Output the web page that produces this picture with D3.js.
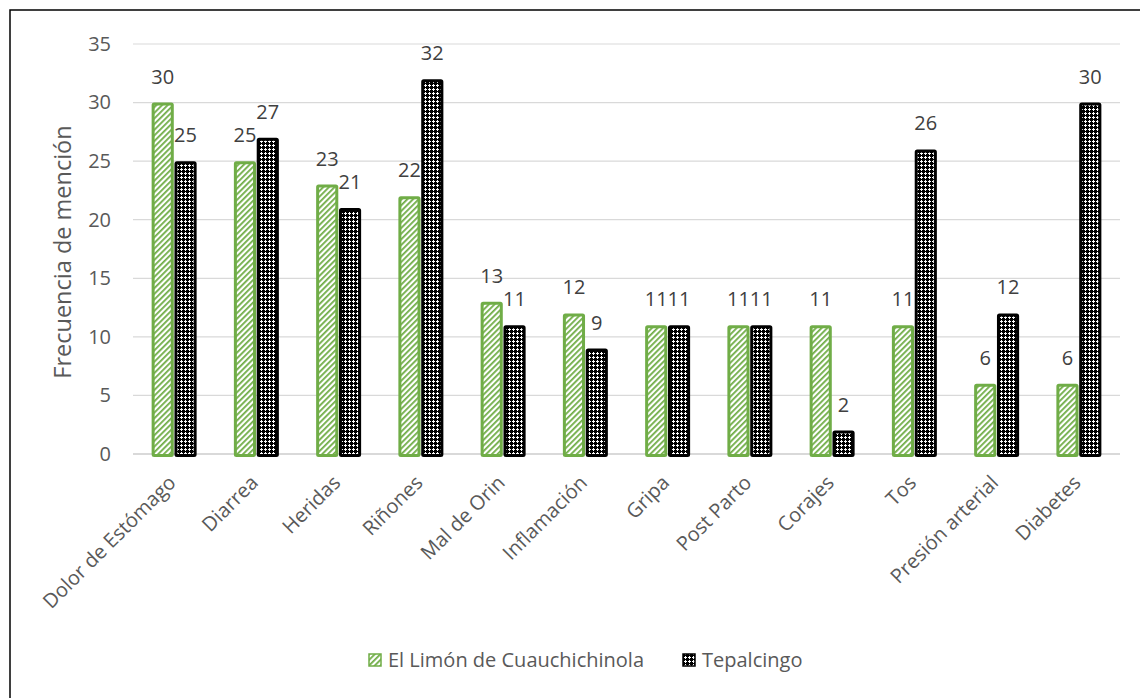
<!DOCTYPE html>
<html>
<head>
<meta charset="utf-8">
<script src="https://cdn.jsdelivr.net/npm/d3@7"></script>
<style>
  html, body { margin: 0; padding: 0; background: #fff; }
  svg { display: block; font-family: "Open Sans", Lato, sans-serif; }
</style>
</head>
<body>
<svg id="chart" width="1140" height="698"></svg>
<script>
// Ailments mentioned by informants in two communities
const categories = ["Dolor de Estómago", "Diarrea", "Heridas", "Riñones", "Mal de Orin",
  "Inflamación", "Gripa", "Post Parto", "Corajes", "Tos", "Presión arterial", "Diabetes"];
const seriesNames = ["El Limón de Cuauchichinola", "Tepalcingo"];
const limonValues = [30, 25, 23, 22, 13, 12, 11, 11, 11, 11, 6, 6];
const tepalcingoValues = [25, 27, 21, 32, 11, 9, 11, 11, 2, 26, 12, 30];
const yTicks = [0, 5, 10, 15, 20, 25, 30, 35];
const yTitle = "Frecuencia de mención";

const seriesValues = [limonValues, tepalcingoValues];
const seriesStyle = [
  { fill: "url(#hatchGreen)", stroke: "#70AD47" },
  { fill: "url(#gridBlack)", stroke: "#000000" }
];

const FONT = "'Open Sans', Lato, sans-serif";
const FS = 20;
const svg = d3.select("#chart");
const margin = { left: 133, right: 20, top: 44, bottom: 244 };
const W = 1140, H = 698;

// Frame around the chart area
svg.append("path")
  .attr("d", "M10,698 L10,10 L1140,10")
  .attr("fill", "none").attr("stroke", "#000").attr("stroke-width", 1.5);

// Fill patterns
const defs = svg.append("defs");
const hatch = defs.append("pattern")
  .attr("id", "hatchGreen").attr("patternUnits", "userSpaceOnUse")
  .attr("width", 4).attr("height", 4).attr("patternTransform", "rotate(45)");
hatch.append("rect").attr("width", 4).attr("height", 4).attr("fill", "#ffffff");
hatch.append("rect").attr("width", 1.8).attr("height", 4).attr("fill", "#70AD47");

const grid = defs.append("pattern")
  .attr("id", "gridBlack").attr("patternUnits", "userSpaceOnUse")
  .attr("width", 4).attr("height", 4);
grid.append("rect").attr("width", 4).attr("height", 4).attr("fill", "#000");
grid.append("rect").attr("x", 1).attr("y", 0).attr("width", 1).attr("height", 3).attr("fill", "#fff");
grid.append("rect").attr("x", 0).attr("y", 1).attr("width", 3).attr("height", 1).attr("fill", "#fff");

// Scales
const x0 = d3.scaleBand().domain(categories)
  .range([margin.left, W - margin.right])
  .paddingInner(0.453).paddingOuter(0.2265);
const x1 = d3.scaleBand().domain(seriesNames)
  .range([0, x0.bandwidth()]).paddingInner(0.03);
const y = d3.scaleLinear().domain([0, 35]).range([H - margin.bottom, margin.top]);

// Gridlines
svg.append("g").selectAll("line").data(yTicks).join("line")
  .attr("x1", margin.left).attr("x2", W - margin.right)
  .attr("y1", d => y(d)).attr("y2", d => y(d))
  .attr("stroke", "#d9d9d9").attr("stroke-width", d => d === 0 ? 2 : 1.2);

// Y axis tick labels
const yAxis = d3.axisLeft(y).tickValues(yTicks).tickSize(0).tickPadding(0);
const yg = svg.append("g").attr("transform", "translate(111,0)").call(yAxis);
yg.select(".domain").remove();
yg.selectAll("text").attr("font-size", FS).attr("fill", "#595959")
  .attr("font-family", FONT);

// Y axis title
svg.append("text")
  .attr("transform", `translate(71,${y(17.5) + 3}) rotate(-90)`)
  .attr("text-anchor", "middle")
  .attr("font-size", 23.5).attr("fill", "#595959")
  .text(yTitle);

// Bars
const sw = 3;
const groups = svg.append("g").selectAll("g").data(seriesNames).join("g");
groups.each(function(s, si) {
  const g = d3.select(this);
  const vals = seriesValues[si];
  g.selectAll("rect").data(categories).join("rect")
    .attr("x", c => x0(c) + x1(s) + sw / 2)
    .attr("y", (c, i) => y(vals[i]) + sw / 2)
    .attr("width", x1.bandwidth() - sw)
    .attr("height", (c, i) => y(0) - y(vals[i]))
    .attr("fill", seriesStyle[si].fill)
    .attr("stroke", seriesStyle[si].stroke)
    .attr("stroke-width", sw)
    .attr("rx", 1);
  g.selectAll("text").data(categories).join("text")
    .attr("x", c => x0(c) + x1(s) + x1.bandwidth() / 2)
    .attr("y", (c, i) => y(vals[i]) - 19)
    .attr("text-anchor", "middle")
    .attr("font-size", FS).attr("fill", "#404040")
    .text((c, i) => vals[i]);
});

// Category labels, rotated
const xAxis = d3.axisBottom(x0).tickSize(0).tickPadding(0);
const xg = svg.append("g").attr("transform", `translate(0,${y(0)})`).call(xAxis);
xg.select(".domain").remove();
xg.selectAll("text")
  .attr("font-size", FS).attr("fill", "#595959")
  .attr("font-family", FONT)
  .attr("text-anchor", "end")
  .attr("dy", null).attr("y", 0)
  .attr("transform", "translate(3,30) rotate(-45)");

// Legend
const legend = svg.append("g").attr("transform", "translate(0,660)");
const legendX = [369, 683];
seriesNames.forEach((s, i) => {
  legend.append("rect")
    .attr("x", legendX[i]).attr("y", -6).attr("width", 12).attr("height", 12)
    .attr("fill", seriesStyle[i].fill).attr("stroke", seriesStyle[i].stroke).attr("stroke-width", 1.5);
  legend.append("text")
    .attr("x", legendX[i] + 19).attr("y", 7)
    .attr("font-size", FS).attr("fill", "#595959")
    .text(s);
});
</script>
</body>
</html>
